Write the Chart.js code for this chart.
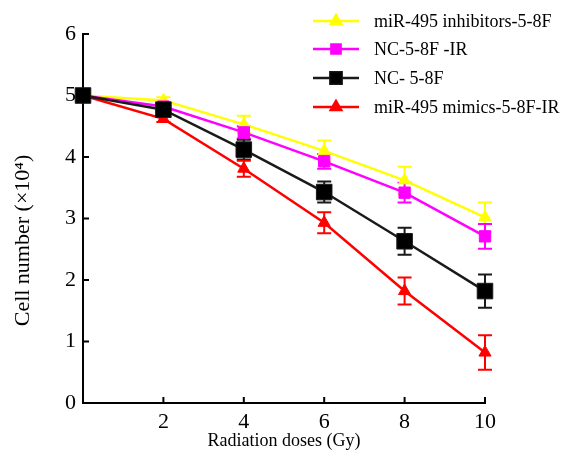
<!DOCTYPE html>
<html>
<head>
<meta charset="utf-8">
<script src="https://cdn.jsdelivr.net/npm/chart.js@4.4.0/dist/chart.umd.min.js"></script>
<style>
    html, body { margin: 0; padding: 0; background: #ffffff; }
    #wrap { width: 569px; height: 459px; }
</style>
</head>
<body>
<div id="wrap"><canvas id="chart" width="569" height="459"></canvas></div>
<script>
// Radiation doses (Gy)
const doses = [0, 2, 4, 6, 8, 10];

// Cell number (x10^4) per group, and their error bars
const inhibitorsValues = [5.0, 4.92, 4.53, 4.1, 3.62, 3.02];
const inhibitorsErrors = [0, 0.05, 0.14, 0.17, 0.22, 0.24];

const ncIrValues = [5.0, 4.82, 4.4, 3.93, 3.42, 2.71];
const ncIrErrors = [0, 0.05, 0.1, 0.12, 0.16, 0.2];

const ncValues = [5.0, 4.77, 4.12, 3.43, 2.63, 1.82];
const ncErrors = [0, 0.07, 0.16, 0.17, 0.22, 0.27];

const mimicsValues = [5.0, 4.62, 3.81, 2.93, 1.82, 0.82];
const mimicsErrors = [0, 0.05, 0.13, 0.17, 0.22, 0.28];

const yTicks = [0, 1, 2, 3, 4, 5, 6];
const xTicks = [2, 4, 6, 8, 10];

const serif = '"Liberation Serif", "Times New Roman", serif';

function toPoints(values) {
    return doses.map((d, i) => ({ x: d, y: values[i] }));
}

const datasets = [
    {
        label: 'miR-495 inhibitors-5-8F',
        data: toPoints(inhibitorsValues),
        errors: inhibitorsErrors,
        borderColor: '#ffff00',
        backgroundColor: '#ffff00',
        pointStyle: 'triangle',
        pointRadius: 7,
        legendSize: 6,
        order: 3
    },
    {
        label: 'NC-5-8F -IR',
        data: toPoints(ncIrValues),
        errors: ncIrErrors,
        borderColor: '#ff00ff',
        backgroundColor: '#ff00ff',
        pointStyle: 'rect',
        pointRadius: 8,
        legendSize: 6.5,
        order: 2
    },
    {
        label: 'NC- 5-8F',
        data: toPoints(ncValues),
        errors: ncErrors,
        borderColor: '#1a1a1a',
        backgroundColor: '#000000',
        pointStyle: 'rect',
        pointRadius: 11,
        legendSize: 8,
        order: 0
    },
    {
        label: 'miR-495 mimics-5-8F-IR',
        data: toPoints(mimicsValues),
        errors: mimicsErrors,
        borderColor: '#ff0000',
        backgroundColor: '#ff0000',
        pointStyle: 'triangle',
        pointRadius: 7,
        legendSize: 6,
        order: 1
    }
];

// Error bars, drawn from the chart's own scales
const errorBars = {
    id: 'errorBars',
    beforeDatasetsDraw(chart) {
        const ctx = chart.ctx;
        const xs = chart.scales.x;
        const ys = chart.scales.y;
        ctx.save();
        ctx.lineWidth = 2;
        chart.data.datasets.forEach(ds => {
            ctx.strokeStyle = ds.borderColor;
            ds.data.forEach((p, i) => {
                const err = ds.errors[i];
                if (!err) return;
                const px = xs.getPixelForValue(p.x);
                const top = ys.getPixelForValue(p.y + err);
                const bottom = ys.getPixelForValue(p.y - err);
                ctx.beginPath();
                ctx.moveTo(px, top);
                ctx.lineTo(px, bottom);
                ctx.moveTo(px - 7, top);
                ctx.lineTo(px + 7, top);
                ctx.moveTo(px - 7, bottom);
                ctx.lineTo(px + 7, bottom);
                ctx.stroke();
            });
        });
        ctx.restore();
    }
};

// Inward tick marks and the legend in the top right
const decorations = {
    id: 'decorations',
    afterDraw(chart) {
        const ctx = chart.ctx;
        const xs = chart.scales.x;
        const ys = chart.scales.y;
        const area = chart.chartArea;
        ctx.save();
        ctx.strokeStyle = '#000';
        ctx.lineWidth = 2;
        ctx.beginPath();
        yTicks.forEach(v => {
            const py = ys.getPixelForValue(v);
            ctx.moveTo(area.left, py);
            ctx.lineTo(area.left + 6, py);
        });
        xTicks.forEach(v => {
            const px = xs.getPixelForValue(v);
            ctx.moveTo(px, area.bottom);
            ctx.lineTo(px, area.bottom - 6);
        });
        ctx.stroke();

        // legend
        const rows = [21, 49, 78, 107];
        ctx.font = '18px ' + serif;
        ctx.textBaseline = 'middle';
        ctx.fillStyle = '#000';
        chart.data.datasets.forEach((ds, i) => {
            const y = rows[i];
            ctx.strokeStyle = ds.borderColor;
            ctx.lineWidth = 2.5;
            ctx.beginPath();
            ctx.moveTo(313, y);
            ctx.lineTo(359, y);
            ctx.stroke();
            Chart.helpers.drawPoint(ctx, {
                pointStyle: ds.pointStyle,
                radius: ds.legendSize,
                borderWidth: 1
            }, 336, y);
            ctx.fillStyle = ds.backgroundColor;
            ctx.fill();
            ctx.fillStyle = '#000';
            ctx.fillText(ds.label, 374, y + 1);
        });
        ctx.restore();
    }
};

new Chart(document.getElementById('chart'), {
    type: 'line',
    data: { datasets: datasets },
    options: {
        responsive: false,
        animation: false,
        layout: { padding: { top: 34, right: 84, left: 0, bottom: 0 } },
        elements: {
            line: { borderWidth: 2.5, tension: 0 },
            point: { borderWidth: 1 }
        },
        datasets: { line: { clip: false } },
        plugins: {
            legend: { display: false },
            tooltip: { enabled: false }
        },
        scales: {
            x: {
                type: 'linear',
                min: 0,
                max: 10,
                grid: { display: false, drawTicks: false },
                border: { color: '#000', width: 2 },
                ticks: {
                    stepSize: 2,
                    padding: 6,
                    color: '#000',
                    font: { family: serif, size: 22 },
                    callback: v => (v === 0 ? '' : v)
                },
                title: {
                    display: true,
                    text: 'Radiation doses (Gy)',
                    color: '#000',
                    font: { family: serif, size: 18 },
                    padding: { top: 0, bottom: 7 }
                },
                afterFit(scale) { scale.height = 56; }
            },
            y: {
                min: 0,
                max: 6,
                grid: { display: false, drawTicks: false },
                border: { color: '#000', width: 2 },
                ticks: {
                    stepSize: 1,
                    padding: 7,
                    color: '#000',
                    font: { family: serif, size: 22 }
                },
                title: {
                    display: true,
                    text: 'Cell number (×10⁴)        ',
                    color: '#000',
                    font: { family: serif, size: 22 },
                    padding: { top: 10, bottom: 0 }
                },
                afterFit(scale) { scale.width = 83; }
            }
        }
    },
    plugins: [errorBars, decorations]
});
</script>
</body>
</html>
